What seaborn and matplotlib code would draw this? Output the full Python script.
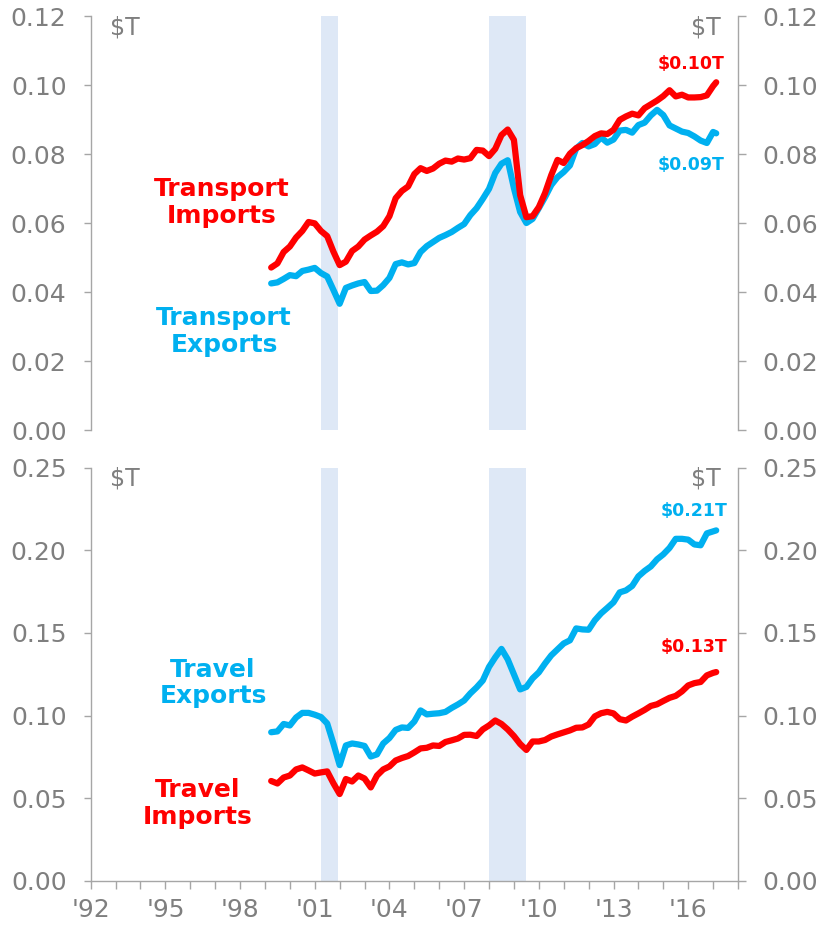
import numpy as np
import pandas as pd
import seaborn as sns
import matplotlib.pyplot as plt
from matplotlib.ticker import FormatStrFormatter

# quarterly points, decimal years
years = list(np.arange(1999.25, 2017.01, 0.25)) + [2017.125]

transport_imports = [
    0.0471, 0.0483, 0.0516,
    0.0532, 0.0558, 0.0577, 0.0603,
    0.0599, 0.0577, 0.0562, 0.0517,
    0.0478, 0.0488, 0.0519, 0.0532,
    0.0552, 0.0564, 0.0575, 0.0591,
    0.0620, 0.0672, 0.0693, 0.0706,
    0.0742, 0.0759, 0.0751, 0.0758,
    0.0772, 0.0781, 0.0778, 0.0787,
    0.0784, 0.0788, 0.0812, 0.0810,
    0.0794, 0.0815, 0.0855, 0.0871,
    0.0841, 0.0681, 0.0617, 0.0620,
    0.0646, 0.0687, 0.0739, 0.0783,
    0.0774, 0.0801, 0.0817, 0.0826,
    0.0838, 0.0852, 0.0860, 0.0858,
    0.0870, 0.0899, 0.0909, 0.0917,
    0.0912, 0.0933, 0.0944, 0.0955,
    0.0968, 0.0985, 0.0967, 0.0972,
    0.0964, 0.0964, 0.0965, 0.0970,
    0.0997, 0.1008,
]
transport_exports = [
    0.0425, 0.0428, 0.0438,
    0.0449, 0.0446, 0.0461, 0.0465,
    0.0470, 0.0455, 0.0445, 0.0406,
    0.0366, 0.0412, 0.0419, 0.0425,
    0.0429, 0.0403, 0.0404, 0.0420,
    0.0441, 0.0481, 0.0486, 0.0480,
    0.0484, 0.0516, 0.0533, 0.0545,
    0.0557, 0.0565, 0.0574, 0.0586,
    0.0597, 0.0623, 0.0643, 0.0670,
    0.0699, 0.0745, 0.0772, 0.0782,
    0.0701, 0.0632, 0.0600, 0.0612,
    0.0643, 0.0675, 0.0710, 0.0733,
    0.0748, 0.0767, 0.0816, 0.0832,
    0.0822, 0.0829, 0.0848, 0.0833,
    0.0842, 0.0868, 0.0870, 0.0862,
    0.0884, 0.0891, 0.0912, 0.0928,
    0.0913, 0.0883, 0.0874, 0.0865,
    0.0861, 0.0851, 0.0839, 0.0832,
    0.0864, 0.0860,
]
travel_exports = [
    0.0899, 0.0904, 0.0949,
    0.0940, 0.0988, 0.1016, 0.1016,
    0.1005, 0.0991, 0.0952, 0.0830,
    0.0700, 0.0819, 0.0831, 0.0825,
    0.0816, 0.0752, 0.0765, 0.0831,
    0.0864, 0.0913, 0.0928, 0.0925,
    0.0964, 0.1031, 0.1007, 0.1011,
    0.1014, 0.1022, 0.1046, 0.1067,
    0.1091, 0.1134, 0.1170, 0.1212,
    0.1294, 0.1352, 0.1403, 0.1340,
    0.1249, 0.1158, 0.1173, 0.1225,
    0.1261, 0.1315, 0.1364, 0.1400,
    0.1436, 0.1455, 0.1527, 0.1521,
    0.1519, 0.1576, 0.1618, 0.1651,
    0.1685, 0.1745, 0.1757, 0.1784,
    0.1842, 0.1875, 0.1902, 0.1945,
    0.1975, 0.2014, 0.2069, 0.2069,
    0.2064, 0.2035, 0.2030, 0.2102,
    0.2114, 0.2120,
]
travel_imports = [
    0.0604, 0.0589, 0.0625,
    0.0637, 0.0674, 0.0686, 0.0668,
    0.0649, 0.0656, 0.0662, 0.0590,
    0.0525, 0.0616, 0.0601, 0.0637,
    0.0619, 0.0565, 0.0637, 0.0674,
    0.0692, 0.0728, 0.0743, 0.0755,
    0.0777, 0.0801, 0.0805, 0.0819,
    0.0816, 0.0840, 0.0850, 0.0861,
    0.0883, 0.0884, 0.0876, 0.0916,
    0.0940, 0.0970, 0.0949, 0.0916,
    0.0876, 0.0828, 0.0792, 0.0843,
    0.0843, 0.0852, 0.0873, 0.0886,
    0.0898, 0.0910, 0.0926, 0.0928,
    0.0946, 0.0995, 0.1014, 0.1022,
    0.1013, 0.0978, 0.0970, 0.0993,
    0.1013, 0.1034, 0.1058, 0.1068,
    0.1088, 0.1107, 0.1119, 0.1146,
    0.1182, 0.1196, 0.1203, 0.1243,
    0.1258, 0.1263,
]

recessions = [(2001.25, 2001.92), (2008.0, 2009.5)]
tick_years = list(range(1992, 2019))
labelled_years = [1992, 1995, 1998, 2001, 2004, 2007, 2010, 2013, 2016]

RED = '#FF0000'
BLUE = '#00B0F0'
GRAY = '#7F7F7F'
SPINE = '#A6A6A6'
SHADE = '#DEE8F6'

sns.set_style('white')
plt.rcParams['font.family'] = ['DejaVu Sans']

fig = plt.figure(figsize=(8.23, 9.27), dpi=100)
ax1 = fig.add_axes([0.1102, 0.5361, 0.7865, 0.4466])
ax2 = fig.add_axes([0.1102, 0.0498, 0.7865, 0.4458])


def panel(ax, imports, exports, imp_name, exp_name, ymax, ystep):
    for start, end in recessions:
        ax.axvspan(start, end, color=SHADE, lw=0, zorder=0)
    df = pd.DataFrame({
        'year': years * 2,
        'value': imports + exports,
        'series': [imp_name] * len(years) + [exp_name] * len(years),
    })
    sns.lineplot(data=df, x='year', y='value', hue='series',
                 palette={imp_name: RED, exp_name: BLUE},
                 hue_order=[exp_name, imp_name],
                 estimator=None, linewidth=4.5, solid_capstyle='round',
                 legend=False, ax=ax, zorder=3)
    ax.set_xlim(1992, 2018)
    ax.set_ylim(0, ymax)
    ax.set_yticks(np.arange(0, ymax + ystep / 2, ystep))
    ax.yaxis.set_major_formatter(FormatStrFormatter('%.2f'))
    ax.set_xlabel('')
    ax.set_ylabel('')
    ax.spines['top'].set_visible(False)
    for s in ['left', 'right', 'bottom']:
        ax.spines[s].set_color(SPINE)
        ax.spines[s].set_linewidth(1)
    ax.tick_params(axis='y', which='both', left=True, right=True,
                   labelleft=True, labelright=True, direction='out',
                   length=5.4, width=1, color=SPINE, labelcolor=GRAY,
                   labelsize=18, pad=12)
    ax.text(0.053, 0.973, '$T', transform=ax.transAxes, ha='center',
            va='center', fontsize=17, color=GRAY)
    ax.text(0.951, 0.973, '$T', transform=ax.transAxes, ha='center',
            va='center', fontsize=17, color=GRAY)


panel(ax1, transport_imports, transport_exports,
      'Transport Imports', 'Transport Exports', 0.12, 0.02)
panel(ax2, travel_imports, travel_exports,
      'Travel Imports', 'Travel Exports', 0.25, 0.05)

# top panel: no x axis
ax1.spines['bottom'].set_visible(False)
ax1.tick_params(axis='x', bottom=False, labelbottom=False)

ax2.set_xticks(tick_years)
ax2.set_xticklabels(["'" + str(y)[2:] if y in labelled_years else ''
                     for y in tick_years])
ax2.tick_params(axis='x', bottom=True, direction='out', length=5.4,
                width=1, color=SPINE, labelcolor=GRAY, labelsize=18, pad=7)

# series names
ax1.text(0.2024, 0.5495, 'Transport\nImports', color=RED,
         transform=ax1.transAxes, ha='center', va='center', fontsize=18,
         fontweight='bold', linespacing=1.15)
ax1.text(0.206, 0.239, 'Transport\nExports', color=BLUE,
         transform=ax1.transAxes, ha='center', va='center', fontsize=18,
         fontweight='bold', linespacing=1.15)
ax2.text(0.189, 0.4786, 'Travel\nExports', color=BLUE,
         transform=ax2.transAxes, ha='center', va='center', fontsize=18,
         fontweight='bold', linespacing=1.15)
ax2.text(0.1658, 0.188, 'Travel\nImports', color=RED,
         transform=ax2.transAxes, ha='center', va='center', fontsize=18,
         fontweight='bold', linespacing=1.15)

# latest values
ax1.text(0.928, 0.884, '$0.10T', color=RED, transform=ax1.transAxes,
         ha='center', va='center', fontsize=12.5, fontweight='bold')
ax1.text(0.928, 0.639, '$0.09T', color=BLUE, transform=ax1.transAxes,
         ha='center', va='center', fontsize=12.5, fontweight='bold')
ax2.text(0.932, 0.895, '$0.21T', color=BLUE, transform=ax2.transAxes,
         ha='center', va='center', fontsize=12.5, fontweight='bold')
ax2.text(0.932, 0.566, '$0.13T', color=RED, transform=ax2.transAxes,
         ha='center', va='center', fontsize=12.5, fontweight='bold')

fig.savefig('out.png', dpi=100)
